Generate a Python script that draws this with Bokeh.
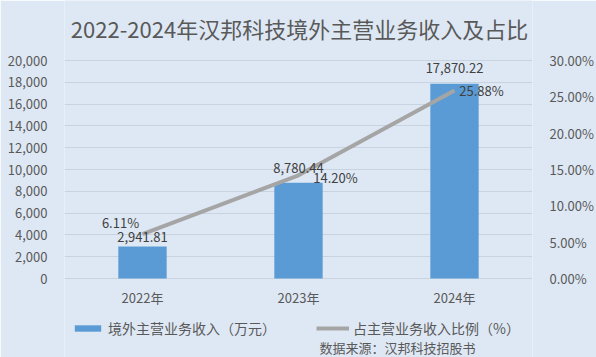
from bokeh.plotting import figure
from bokeh.models import (Range1d, LinearAxis, FixedTicker, NumeralTickFormatter,
                          Legend, LegendItem, Label, ColumnDataSource)
from bokeh.core.properties import value
from bokeh.embed import file_html
from bokeh.resources import INLINE

years = ["2022年", "2023年", "2024年"]
revenue = [2941.81, 8780.44, 17870.22]
share = [0.0611, 0.1420, 0.2588]
revenue_text = ["2,941.81", "8,780.44", "17,870.22"]
share_text = ["6.11%", "14.20%", "25.88%"]
left_ticks = [0, 2000, 4000, 6000, 8000, 10000, 12000, 14000, 16000, 18000, 20000]
right_ticks = [0.0, 0.05, 0.10, 0.15, 0.20, 0.25, 0.30]

BG = "#dee8f4"
GRID = "#c9d3df"
FONT = "Noto Sans CJK SC"

# frame spans full canvas height; value 0 sits 278px from the top, max tick 60px from the top
H = 357
ZERO_PX, TOP_PX = 278, 60
per_px_l = (left_ticks[-1] - left_ticks[0]) / (ZERO_PX - TOP_PX)
per_px_r = (right_ticks[-1] - right_ticks[0]) / (ZERO_PX - TOP_PX)
yl = Range1d(-(H - ZERO_PX) * per_px_l, left_ticks[-1] + TOP_PX * per_px_l)
yr = Range1d(-(H - ZERO_PX) * per_px_r, right_ticks[-1] + TOP_PX * per_px_r)

p = figure(width=596, height=H, x_range=years, y_range=yl,
           output_backend="svg", toolbar_location=None, x_axis_location=None,
           min_border_left=64, min_border_right=62, min_border_top=0, min_border_bottom=0)
p.background_fill_color = BG
p.border_fill_color = BG
p.outline_line_color = None
p.title.visible = False

p.extra_y_ranges = {"pct": yr}

p.yaxis.ticker = FixedTicker(ticks=left_ticks)
p.yaxis.formatter = NumeralTickFormatter(format="0,0")
right = LinearAxis(y_range_name="pct", ticker=FixedTicker(ticks=right_ticks),
                   formatter=NumeralTickFormatter(format="0.00%"))
p.add_layout(right, "right")
for ax in [p.yaxis[0], right]:
    ax.axis_line_color = None
    ax.major_tick_line_color = None
    ax.minor_tick_line_color = None
    ax.major_label_standoff = 11
    ax.major_label_text_font = FONT
    ax.major_label_text_font_size = "13px"
    ax.major_label_text_color = "#595959"

p.xgrid.grid_line_color = None
p.ygrid.grid_line_color = GRID
p.ygrid.ticker = FixedTicker(ticks=left_ticks)

src = ColumnDataSource(dict(x=years, rev=revenue, pct=share, rt=revenue_text, pt=share_text,
                            zero=[0] * len(years),
                            rxo=[0, 0, 0], ryo=[-9, -15, -16],
                            pxo=[-22, 37, 27], pyo=[-12, 2, 0]))

bars = p.vbar(x="x", top="rev", width=0.31, source=src, fill_color="#5b9bd5", line_color=None)
line = p.line(x="x", y="pct", source=src, y_range_name="pct", line_color="#a5a5a5", line_width=4)

# category labels (x axis)
p.text(x="x", y="zero", text="x", source=src, y_offset=19,
       text_align="center", text_baseline="middle", text_font=value(FONT),
       text_font_size="13px", text_color="#595959")

p.text(x="x", y="rev", text="rt", source=src, x_offset="rxo", y_offset="ryo",
       text_align="center", text_baseline="middle", text_font=value(FONT),
       text_font_size="13px", text_color="#404040")
p.text(x="x", y="pct", text="pt", source=src, y_range_name="pct", x_offset="pxo", y_offset="pyo",
       text_align="center", text_baseline="middle", text_font=value(FONT),
       text_font_size="13px", text_color="#404040")

legend = Legend(items=[LegendItem(label="境外主营业务收入（万元）", renderers=[bars]),
                       LegendItem(label="占主营业务收入比例（%）", renderers=[line])],
                orientation="horizontal", location=(7, 19), padding=0, margin=0,
                spacing=40, label_standoff=4, glyph_width=33, glyph_height=8,
                label_text_font=FONT, label_text_font_size="14px", label_text_color="#595959",
                border_line_color=None, background_fill_alpha=0)
p.add_layout(legend, "center")

title = Label(x=235, y=H - 27, x_units="screen", y_units="screen",
              text="2022-2024年汉邦科技境外主营业务收入及占比",
              text_align="center", text_baseline="middle", text_font=FONT,
              text_font_size="22px", text_color="#595959")
p.add_layout(title)

note = Label(x=255, y=10, x_units="screen", y_units="screen", text="数据来源：汉邦科技招股书",
             text_baseline="middle", text_font=FONT, text_font_size="13px", text_color="#595959")
p.add_layout(note)

open("out.html", "w").write(file_html(p, INLINE))
